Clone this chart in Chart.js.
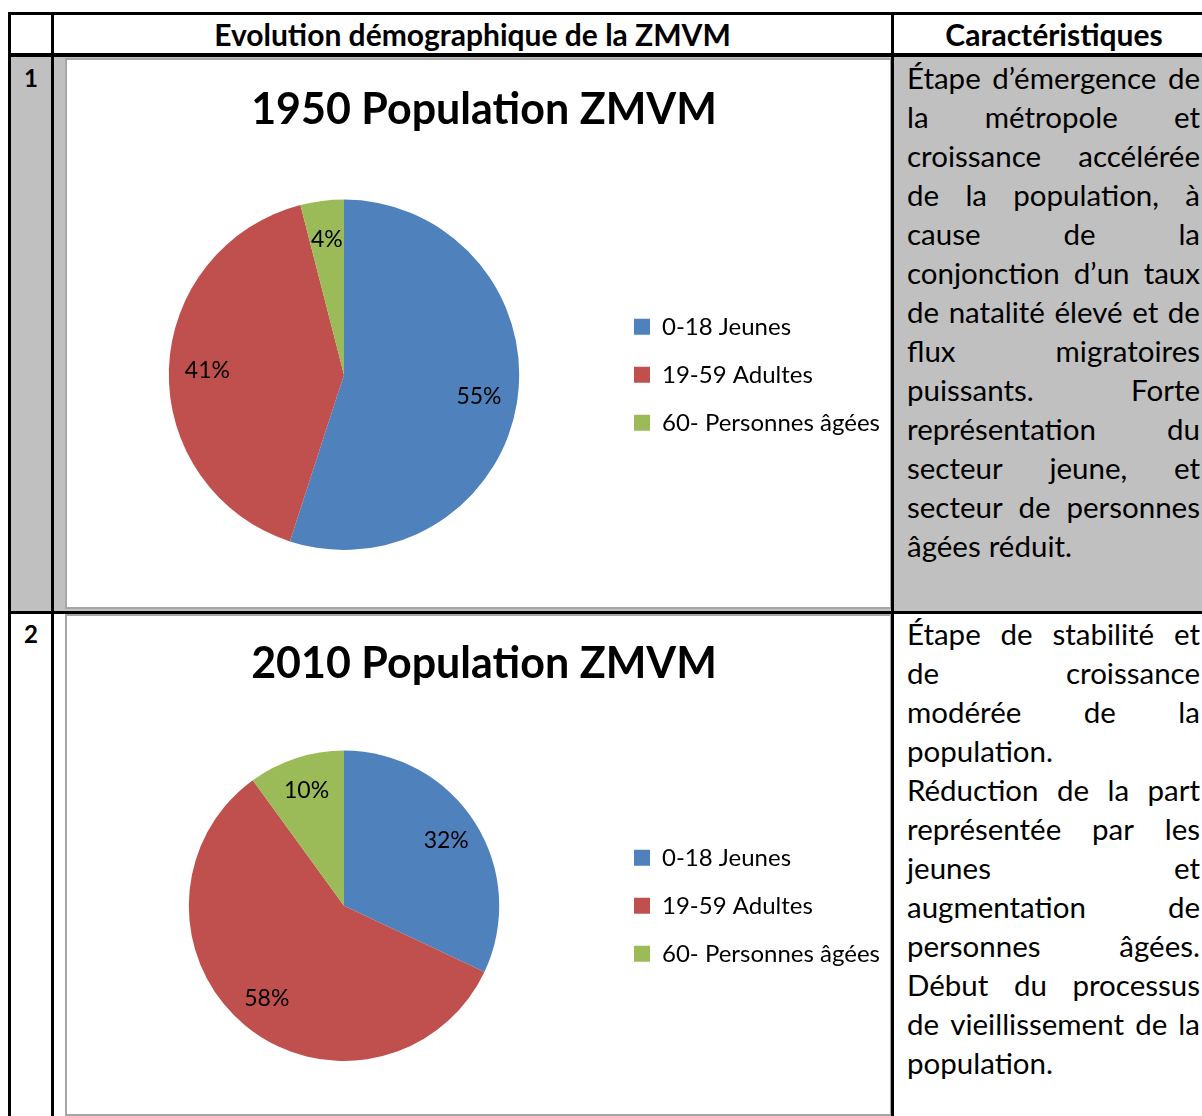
<!DOCTYPE html>
<html>
<head>
<meta charset="utf-8">
<script src="https://cdn.jsdelivr.net/npm/chart.js@4"></script>
<style>
  body { margin: 0; width: 1202px; height: 1116px; overflow: hidden; background: #fff; font-family: Lato, sans-serif; position: relative; }
  .abs { position: absolute; }
  .line { position: absolute; background: #000; }
  .head { position: absolute; top: 15px; height: 38px; line-height: 38px; font-weight: bold; font-size: 30px; text-align: center; color: #000; }
  .num { position: absolute; left: 11px; width: 40px; text-align: center; font-weight: bold; font-size: 24px; }
  .box { position: absolute; left: 65px; width: 823px; border: 2px solid #a6a6a6; background: #fff; }
  .txt { position: absolute; left: 907px; width: 293px; font-size: 29.5px; color: #000; }
  .txt div { height: 39px; line-height: 39px; display: flex; white-space: nowrap; }
  .txt div.j { justify-content: space-between; }
  .txt div.l span { margin-right: 8px; }
</style>
</head>
<body>
<!-- row 1 background -->
<div class="abs" style="left:11px;top:57px;width:1200px;height:554px;background:#c0c0c0"></div>

<div class="box" style="top:58px;height:547px"><canvas id="chart1950" width="823" height="547"></canvas></div>
<div class="box" style="top:614px;height:498px"><canvas id="chart2010" width="823" height="498"></canvas></div>

<!-- table rules -->
<div class="line" style="left:8px;top:12px;width:1200px;height:3px"></div>
<div class="line" style="left:8px;top:53px;width:1200px;height:4px"></div>
<div class="line" style="left:8px;top:611px;width:1200px;height:3px"></div>
<div class="line" style="left:8px;top:12px;width:3px;height:1110px"></div>
<div class="line" style="left:51px;top:12px;width:3px;height:1110px"></div>
<div class="line" style="left:891px;top:12px;width:3px;height:1110px"></div>

<div class="head" style="left:54px;width:837px">Evolution démographique de la ZMVM</div>
<div class="head" style="left:894px;width:320px">Caractéristiques</div>
<div class="num" style="top:60px;line-height:36px">1</div>
<div class="num" style="top:616px;line-height:36px">2</div>

<div class="txt" id="text1950" style="top:58px"></div>
<div class="txt" id="text2010" style="top:614px"></div>

<script>
// data
const ageGroups = ['0-18 Jeunes', '19-59 Adultes', '60- Personnes âgées'];
const share1950 = [55, 41, 4];
const share2010 = [32, 58, 10];
const sliceColors = ['#4F81BD', '#C0504D', '#9BBB59'];

// text column, one entry per printed line ('*' = last line, not justified)
const lines1950 = [
  'Étape d’émergence de', 'la métropole et', 'croissance accélérée',
  'de la population, à', 'cause de la', 'conjonction d’un taux',
  'de natalité élevé et de', 'flux migratoires', 'puissants. Forte',
  'représentation du', 'secteur jeune, et', 'secteur de personnes',
  '*âgées réduit.'
];
const lines2010 = [
  'Étape de stabilité et', 'de croissance', 'modérée de la', '*population.',
  'Réduction de la part', 'représentée par les', 'jeunes et',
  'augmentation de', 'personnes âgées.', 'Début du  processus',
  'de vieillissement de la', '*population.'
];

function fillText(id, lines) {
  const el = document.getElementById(id);
  lines.forEach(line => {
    const row = document.createElement('div');
    const last = line.startsWith('*');
    row.className = last ? 'l' : 'j';
    line.replace('*', '').split(/\s+/).forEach(w => {
      const s = document.createElement('span');
      s.textContent = w;
      row.appendChild(s);
    });
    el.appendChild(row);
  });
}
fillText('text1950', lines1950);
fillText('text2010', lines2010);

// percentage labels inside the slices
const pctLabels = {
  id: 'pctLabels',
  afterDatasetsDraw(chart) {
    const ctx = chart.ctx;
    const ds = chart.data.datasets[0];
    const meta = chart.getDatasetMeta(0);
    ctx.save();
    ctx.font = '23px Lato, sans-serif';
    ctx.fillStyle = '#000';
    ctx.textAlign = 'center';
    ctx.textBaseline = 'middle';
    meta.data.forEach((arc, i) => {
      const p = arc.getProps(['x', 'y', 'startAngle', 'endAngle', 'outerRadius'], true);
      const mid = (p.startAngle + p.endAngle) / 2;
      const r = p.outerRadius * 0.78;
      ctx.fillText(ds.data[i] + '%', p.x + Math.cos(mid) * r, p.y + Math.sin(mid) * r);
    });
    ctx.restore();
  }
};

const legendFont = { family: 'Lato, sans-serif', size: 24 };

// right padding so that the legend starts at the same place in both charts
function rightPad(canvasW) {
  const c = document.createElement('canvas').getContext('2d');
  c.font = legendFont.size + 'px ' + legendFont.family;
  const w = Math.max(...ageGroups.map(t => c.measureText(t).width));
  return Math.max(0, canvasW - 543 - (24 + 16 + 12 + w + 10));
}

function makePie(id, year, values, titlePad, bottomPad) {
  new Chart(document.getElementById(id), {
    type: 'pie',
    data: {
      labels: ageGroups,
      datasets: [{ data: values, backgroundColor: sliceColors, borderWidth: 0 }]
    },
    options: {
      responsive: false,
      devicePixelRatio: 1,
      animation: false,
      layout: { padding: { left: 11, right: rightPad(823), top: 0, bottom: bottomPad } },
      plugins: {
        title: {
          display: true,
          text: year + ' Population ZMVM',
          color: '#000',
          font: { family: 'Lato, sans-serif', size: 43, weight: 'bold', lineHeight: 1.2 },
          padding: titlePad
        },
        legend: {
          position: 'right',
          fullSize: false,
          labels: { color: '#000', font: legendFont, boxWidth: 16, boxHeight: 16, padding: 24 }
        },
        tooltip: { enabled: false }
      }
    },
    plugins: [pctLabels]
  });
}

makePie('chart1950', 1950, share1950, { top: 24, bottom: 64 }, 57);
makePie('chart2010', 2010, share2010, { top: 22, bottom: 61 }, 53);
</script>
</body>
</html>
